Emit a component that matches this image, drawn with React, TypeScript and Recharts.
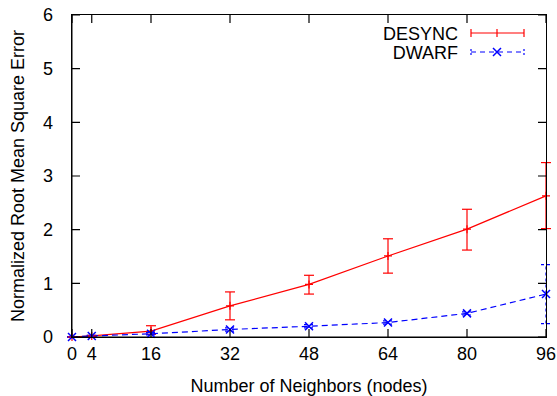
import { ComposedChart, Line, XAxis, YAxis, ErrorBar } from "recharts";

const neighbors = [0, 4, 16, 32, 48, 64, 80, 96];
const desync = [0, 0.02, 0.11, 0.58, 0.98, 1.51, 2.01, 2.63];
const desyncLow = [0, 0.01, 0.05, 0.32, 0.8, 1.19, 1.62, 2.02];
const desyncHigh = [0, 0.03, 0.21, 0.84, 1.15, 1.83, 2.38, 3.25];
const dwarf = [0, 0.02, 0.06, 0.14, 0.2, 0.27, 0.44, 0.8];
const dwarfLow = [0, 0.01, 0.04, 0.11, 0.17, 0.24, 0.41, 0.25];
const dwarfHigh = [0, 0.03, 0.08, 0.17, 0.23, 0.3, 0.47, 1.35];
const xTicks = [0, 4, 16, 32, 48, 64, 80, 96];
const yTicks = [0, 1, 2, 3, 4, 5, 6];

const xMax = 96;
const yMax = 6;

const font = "'Liberation Sans', Arial, sans-serif";

// chart box and plot area
const W = 557;
const H = 396;
const margin = { top: 15, right: 11, bottom: 0, left: 0 };
const yAxisW = 72;
const xAxisH = 59;
const plotL = margin.left + yAxisW;
const plotR = W - margin.right;
const plotT = margin.top;
const plotB = H - margin.bottom - xAxisH;
const tickLen = 8;

const data = neighbors.map((n, i) => ({
  n,
  desync: desync[i],
  desyncErr: [desync[i] - desyncLow[i], desyncHigh[i] - desync[i]],
  dwarf: dwarf[i],
  dwarfErr: [dwarf[i] - dwarfLow[i], dwarfHigh[i] - dwarf[i]],
}));

// gnuplot style "+" point
const PlusDot = ({ cx, cy }: any) => (
  <path d={`M${cx - 4},${cy}H${cx + 4}M${cx},${cy - 4}V${cy + 4}`} stroke="#ff0000" strokeWidth={1.2} fill="none" />
);

// gnuplot style "x" point
const CrossDot = ({ cx, cy }: any) => (
  <path
    d={`M${cx - 4},${cy - 4}L${cx + 4},${cy + 4}M${cx - 4},${cy + 4}L${cx + 4},${cy - 4}`}
    stroke="#0000ff"
    strokeWidth={1.5}
    fill="none"
  />
);

const tickStyle = { fontSize: 18, fill: "#000", fontFamily: font };

// inward tick marks on all four sides, gnuplot style
const tickX = (v: number) => plotL + (v / xMax) * (plotR - plotL);
const tickY = (v: number) => plotB - (v / yMax) * (plotB - plotT);
const frameTicks =
  xTicks.map((t) => `M${tickX(t)},${plotB}v${-tickLen}M${tickX(t)},${plotT}v${tickLen}`).join("") +
  yTicks.map((t) => `M${plotL},${tickY(t)}h${tickLen}M${plotR},${tickY(t)}h${-tickLen}`).join("");

const App = () => {
  return (
    <div style={{ position: "absolute", left: 0, top: 0, width: W, height: H, background: "#fff" }}>
      <ComposedChart width={W} height={H} data={data} margin={margin}>
        <XAxis
          dataKey="n"
          type="number"
          domain={[0, xMax]}
          ticks={xTicks}
          height={xAxisH}
          stroke="#000"
          tickLine={false}
          tickSize={0}
          tickMargin={10}
          tick={tickStyle}
          label={{ value: "Number of Neighbors (nodes)", position: "insideBottom", offset: 4, style: { ...tickStyle, textAnchor: "middle" } }}
        />
        <YAxis
          domain={[0, yMax]}
          ticks={yTicks}
          width={yAxisW}
          stroke="#000"
          tickLine={false}
          tickSize={0}
          tickMargin={19}
          tick={tickStyle}
          label={{
            value: "Normalized Root Mean Square Error",
            angle: -90,
            position: "insideLeft",
            offset: 18,
            style: { ...tickStyle, textAnchor: "middle" },
          }}
        />
        <Line
          dataKey="desync"
          name="DESYNC"
          stroke="#ff0000"
          strokeWidth={1.2}
          dot={<PlusDot />}
          activeDot={false}
          isAnimationActive={false}
        >
          <ErrorBar dataKey="desyncErr" width={5} stroke="#ff0000" strokeWidth={1.2} />
        </Line>
        <Line
          dataKey="dwarf"
          name="DWARF"
          stroke="#0000ff"
          strokeWidth={1.2}
          strokeDasharray="6 4"
          dot={<CrossDot />}
          activeDot={false}
          isAnimationActive={false}
        >
          <ErrorBar dataKey="dwarfErr" width={5} stroke="#0000ff" strokeWidth={1.2} strokeDasharray="3 3" />
        </Line>
      </ComposedChart>
      {/* frame border */}
      <div
        style={{
          position: "absolute",
          left: plotL - 1,
          top: plotT - 1,
          width: plotR - plotL,
          height: plotB - plotT,
          border: "1.5px solid #000",
          pointerEvents: "none",
        }}
      />
      <svg width={W} height={H} style={{ position: "absolute", left: 0, top: 0, pointerEvents: "none", zIndex: 2 }}>
        <path d={frameTicks} stroke="#000" strokeWidth={1.2} fill="none" />
        <g fontFamily={font} fontSize={18} textAnchor="end">
          <text x={458} y={40}>DESYNC</text>
          <text x={458} y={59}>DWARF</text>
        </g>
        <g stroke="#ff0000" strokeWidth={1.2}>
          <path d="M471,33H524M471,29V37M524,29V37M497,29V37" />
        </g>
        <g stroke="#0000ff" strokeWidth={1.2} fill="none">
          <path d="M471,52H524" strokeDasharray="5 4" />
          <path d="M471,49V55M524,49V55" strokeDasharray="2 2" />
          <path d="M493,48L501,56M493,56L501,48" strokeWidth={1.5} />
        </g>
      </svg>
    </div>
  );
};

export default App;
